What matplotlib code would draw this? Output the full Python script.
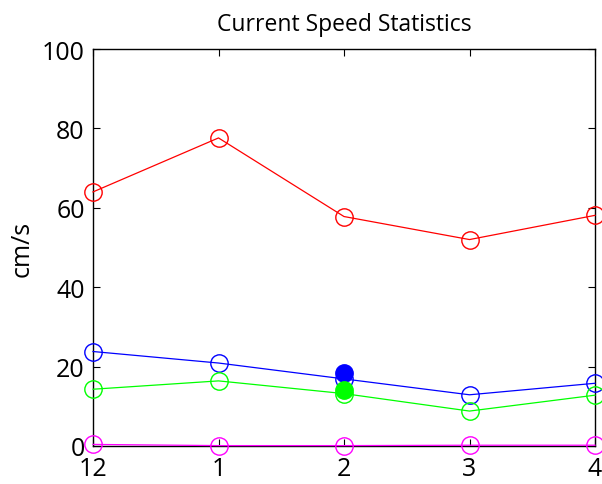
import matplotlib
matplotlib.use("Agg")
import matplotlib.pyplot as plt

months = ["12", "1", "2", "3", "4"]
x_pos = [0, 1, 2, 3, 4]
red_vals = [64.0, 77.6, 57.8, 52.0, 58.1]
blue_vals = [23.8, 20.9, 16.9, 12.9, 15.8]
green_vals = [14.3, 16.4, 13.2, 8.8, 12.8]
magenta_vals = [0.4, 0.1, 0.1, 0.2, 0.2]
blue_point = 18.3
green_point = 14.1
point_x = 2

plt.rcParams['font.family'] = ['Open Sans', 'DejaVu Sans']

fig = plt.figure(figsize=(6.02, 4.85), dpi=100)
ax = fig.add_axes([93/602, 38/485, (595-93)/602, (447-50)/485])

ms = 12.5
lw = 0.9
for vals, c in [(red_vals, '#ff0000'), (blue_vals, '#0000ff'),
                (green_vals, '#00ff00'), (magenta_vals, '#ff00ff')]:
    ax.plot(x_pos, vals, '-o', color=c, mfc='none', mec=c, ms=ms, lw=lw,
            mew=1.0, clip_on=False, zorder=3)

ax.plot([point_x], [blue_point], 'o', color='#0000ff', ms=12.5, zorder=4, clip_on=False)
ax.plot([point_x], [green_point], 'o', color='#00ff00', ms=12.5, zorder=4, clip_on=False)

ax.set_xlim(0, 4)
ax.set_ylim(0, 100)
ax.set_xticks(x_pos)
ax.set_xticklabels(months)
ax.set_yticks([0, 20, 40, 60, 80, 100])
ax.tick_params(direction='in', top=True, right=True, length=5, width=0.8,
               labelsize=18)
ax.tick_params(axis='x', pad=7)
ax.tick_params(axis='y', pad=6)
for s in ax.spines.values():
    s.set_linewidth(1.0)
ax.set_ylabel('cm/s', fontsize=18, labelpad=5)
ax.set_title('Current Speed Statistics', fontsize=16.5, pad=14)

fig.savefig('out.png', dpi=100)
